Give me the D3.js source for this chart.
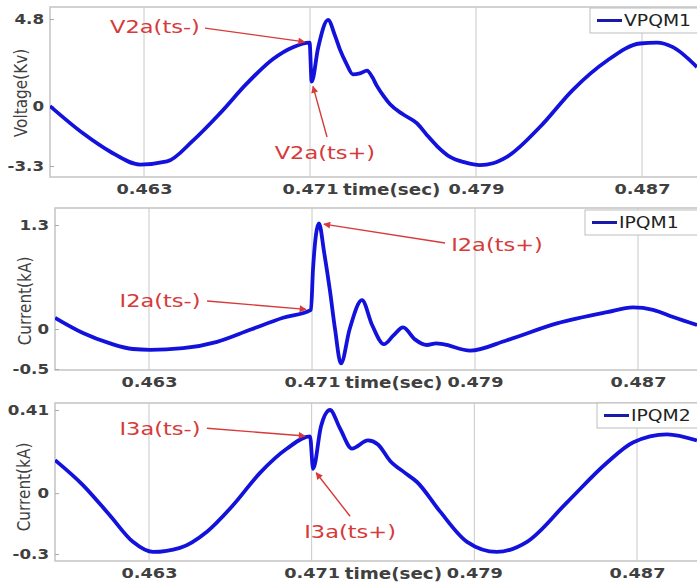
<!DOCTYPE html>
<html>
<head>
<meta charset="utf-8">
<script src="https://cdn.jsdelivr.net/npm/d3@7/dist/d3.min.js"></script>
<style>
  body { margin: 0; background: #fff; }
  text { font-family: "DejaVu Sans", sans-serif; }
</style>
</head>
<body>
<svg id="chart" width="697" height="584"></svg>
<script>
// values (time in s)
const tV = [0.45847, 0.46006, 0.46136, 0.46281, 0.46411, 0.46536, 0.46666, 0.46796, 0.46922, 0.47018,
    0.47098, 0.47108, 0.47139, 0.47187, 0.47220, 0.47245, 0.47273, 0.47307, 0.47340, 0.47375,
    0.47400, 0.47423, 0.47455, 0.47486, 0.47548, 0.47616, 0.47664, 0.47712, 0.47775, 0.47847,
    0.47919, 0.47982, 0.48049, 0.48208, 0.48367, 0.48531, 0.48690, 0.48772, 0.48849, 0.48965];
const vV = [0.0, -1.5, -2.5, -3.22, -3.05, -1.9, -0.4, 1.25, 2.6, 3.25,
    3.5, 1.35, 3.2, 4.75, 3.9, 3.1, 2.4, 1.75, 1.8, 1.95,
    1.6, 1.1, 0.55, 0.1, -0.45, -0.95, -1.6, -2.2, -2.8, -3.1,
    -3.25, -3.15, -2.8, -1.15, 0.9, 2.5, 3.45, 3.5, 3.25, 2.15];

const tI1 = [0.45839, 0.45976, 0.46109, 0.46221, 0.46305, 0.46467, 0.46634, 0.46796, 0.46958, 0.47095,
    0.47105, 0.47134, 0.47160, 0.47188, 0.47213, 0.47242, 0.47285, 0.47345, 0.47395, 0.47453,
    0.47500, 0.47547, 0.47605, 0.47664, 0.47710, 0.47743, 0.47876, 0.48057, 0.48302, 0.48548,
    0.48675, 0.48774, 0.48872, 0.48990];
const vI1 = [0.14, -0.05, -0.18, -0.25, -0.26, -0.24, -0.16, -0.01, 0.14, 0.24,
    0.75, 1.32, 0.95, 0.48, 0.0, -0.43, 0.0, 0.36, 0.05, -0.19,
    -0.08, 0.02, -0.13, -0.2, -0.18, -0.19, -0.27, -0.14, 0.07, 0.21,
    0.27, 0.24, 0.15, 0.05];

const tI2 = [0.45838, 0.45975, 0.46108, 0.46221, 0.46320, 0.46452, 0.46585, 0.46713, 0.46846, 0.46979,
    0.47092, 0.47107, 0.47146, 0.47190, 0.47239, 0.47298, 0.47377, 0.47426, 0.47485, 0.47559,
    0.47618, 0.47731, 0.47864, 0.48011, 0.48159, 0.48356, 0.48552, 0.48680, 0.48848, 0.48995];
const vI2 = [0.163, 0.04, -0.11, -0.24, -0.29, -0.27, -0.19, -0.06, 0.10, 0.22,
    0.28, 0.12, 0.33, 0.41, 0.32, 0.22, 0.26, 0.24, 0.16, 0.10,
    0.055, -0.09, -0.24, -0.29, -0.24, -0.045, 0.15, 0.25, 0.29, 0.26];

const xTicks = [0.463, 0.471, 0.479, 0.487];
const yTicksV = [-3.3, 0, 4.8];
const yTicksI1 = [-0.5, 0, 1.3];
const yTicksI2 = [-0.3, 0, 0.41];

// annotations: target point, label centre and arrow start, all in data units
const notesV = [
    {label: "V2a(ts-)", t: 0.47098, v: 3.5, lt: 0.46353, lv: 4.36, st: 0.46594, sv: 4.30},
    {label: "V2a(ts+)", t: 0.47108, v: 1.35, lt: 0.47172, lv: -2.58, st: 0.47182, sv: -1.70}
];
const notesI1 = [
    {label: "I2a(ts-)", t: 0.47095, v: 0.24, lt: 0.46354, lv: 0.36, st: 0.46585, sv: 0.35},
    {label: "I2a(ts+)", t: 0.47134, v: 1.32, lt: 0.48008, lv: 1.05, st: 0.47753, sv: 1.075}
];
const notesI2 = [
    {label: "I3a(ts-)", t: 0.47092, v: 0.28, lt: 0.46354, lv: 0.32, st: 0.46585, sv: 0.32},
    {label: "I3a(ts+)", t: 0.47107, v: 0.12, lt: 0.47289, lv: -0.19, st: 0.47289, sv: -0.114}
];

const panels = [
    {t: tV, v: vV, name: "VPQM1", ylabel: "Voltage(Kv)", yTicks: yTicksV, notes: notesV,
        left: 50, top: 7, bottom: 177, xr: [144, 642], yr: [166, 19], legX: 590, legY: 8, ylabX: 21, ylabY: 93},
    {t: tI1, v: vI1, name: "IPQM1", ylabel: "Current(kA)", yTicks: yTicksI1, notes: notesI1,
        left: 55, top: 208, bottom: 370, xr: [149, 638], yr: [369, 225], legX: 585, legY: 210, ylabX: 25, ylabY: 301},
    {t: tI2, v: vI2, name: "IPQM2", ylabel: "Current(kA)", yTicks: yTicksI2, notes: notesI2,
        left: 55, top: 403, bottom: 561, xr: [149, 637], yr: [554, 410], legX: 597, legY: 403, ylabX: 24, ylabY: 487}
];

const svg = d3.select("#chart");
const right = 700;
const lineColor = "#1212dc";
const red = "#d63a3a";
const axisText = "#404040";

svg.append("defs").append("marker")
    .attr("id", "head")
    .attr("viewBox", "0 0 10 10")
    .attr("refX", 9).attr("refY", 5)
    .attr("markerWidth", 10).attr("markerHeight", 7)
    .attr("markerUnits", "userSpaceOnUse")
    .attr("orient", "auto")
    .append("path").attr("d", "M0,0 L10,5 L0,10 Z").attr("fill", red);

// stretch text horizontally, the picture is wider than a normal font
function widen(sel, k) {
    sel.each(function () {
        const w = this.getComputedTextLength();
        d3.select(this).attr("textLength", w * k).attr("lengthAdjust", "spacingAndGlyphs");
    });
}

panels.forEach((p, i) => {
    const x = d3.scaleLinear().domain([0.463, 0.487]).range(p.xr);
    const y = d3.scaleLinear().domain([p.yTicks[0], p.yTicks[2]]).range(p.yr);
    const g = svg.append("g");

    g.append("rect")
        .attr("x", p.left).attr("y", p.top)
        .attr("width", right - p.left).attr("height", p.bottom - p.top)
        .attr("fill", "#fff").attr("stroke", "#c4c4c4").attr("stroke-width", 1.5);

    g.selectAll(".grid").data(xTicks).enter().append("line")
        .attr("x1", d => x(d)).attr("x2", d => x(d))
        .attr("y1", p.top).attr("y2", p.bottom)
        .attr("stroke", "#c8c8c8").attr("stroke-width", 1);

    // x axis labels
    const xa = g.append("g")
        .attr("transform", "translate(0," + p.bottom + ")")
        .call(d3.axisBottom(x).tickValues(xTicks).tickSize(0).tickPadding(7).tickFormat(d3.format(".3f")));
    xa.select(".domain").remove();
    xa.selectAll("text").attr("font-size", 14.5).attr("font-weight", "bold").attr("fill", axisText)
        .attr("font-family", "DejaVu Sans");
    widen(xa.selectAll("text"), 1.22);

    // y axis
    const ya = g.append("g")
        .attr("transform", "translate(" + p.left + ",0)")
        .call(d3.axisLeft(y).tickValues(p.yTicks).tickSize(-4).tickPadding(6).tickFormat(d => d === 0 ? "0" : d));
    ya.select(".domain").remove();
    ya.selectAll("line").attr("stroke", "#aaa");
    ya.selectAll("text").attr("font-size", 14.5).attr("font-weight", "bold").attr("fill", axisText)
        .attr("font-family", "DejaVu Sans");
    widen(ya.selectAll("text"), 1.15);

    g.append("text")
        .attr("x", x(0.471) + 33).attr("y", p.bottom + 18)
        .attr("font-size", 15).attr("font-weight", "bold").attr("fill", axisText)
        .text("time(sec)")
        .call(widen, 1.22);

    g.append("text")
        .attr("transform", "translate(" + p.ylabX + "," + p.ylabY + ") rotate(-90)")
        .attr("text-anchor", "middle").attr("dy", "0.35em")
        .attr("font-size", 17).attr("fill", axisText)
        .text(p.ylabel)
        .call(widen, 0.9);

    // curve
    const clipId = "clip" + i;
    g.append("clipPath").attr("id", clipId).append("rect")
        .attr("x", p.left).attr("y", p.top).attr("width", right - p.left).attr("height", p.bottom - p.top);
    const pts = p.t.map((t, k) => [t, p.v[k]]);
    g.append("path")
        .datum(pts)
        .attr("clip-path", "url(#" + clipId + ")")
        .attr("fill", "none").attr("stroke", lineColor).attr("stroke-width", 3.8)
        .attr("stroke-linejoin", "round")
        .attr("d", d3.line().x(d => x(d[0])).y(d => y(d[1])).curve(d3.curveMonotoneX));

    // legend
    const lg = g.append("g").attr("transform", "translate(" + p.legX + "," + p.legY + ")");
    lg.append("rect").attr("width", right - p.legX).attr("height", 25)
        .attr("fill", "#fff").attr("stroke", "#bdbdbd");
    lg.append("line").attr("x1", 7).attr("x2", 32).attr("y1", 12.5).attr("y2", 12.5)
        .attr("stroke", "#1a1aa8").attr("stroke-width", 3);
    lg.append("text").attr("x", 34).attr("y", 18)
        .attr("font-size", 15).attr("fill", "#222").text(p.name)
        .call(widen, 1.25);

    // annotations
    p.notes.forEach(n => {
        const tx = x(n.t), ty = y(n.v), sx = x(n.st), sy = y(n.sv);
        const len = Math.hypot(tx - sx, ty - sy);
        const gap = 5;
        g.append("line")
            .attr("x1", sx).attr("y1", sy)
            .attr("x2", tx - (tx - sx) * gap / len).attr("y2", ty - (ty - sy) * gap / len)
            .attr("stroke", red).attr("stroke-width", 1.4)
            .attr("marker-end", "url(#head)");
        g.append("text")
            .attr("x", x(n.lt)).attr("y", y(n.lv))
            .attr("text-anchor", "middle").attr("dy", "0.35em")
            .attr("font-size", 18).attr("fill", red)
            .text(n.label)
            .call(widen, 1.25);
    });
});
</script>
</body>
</html>
